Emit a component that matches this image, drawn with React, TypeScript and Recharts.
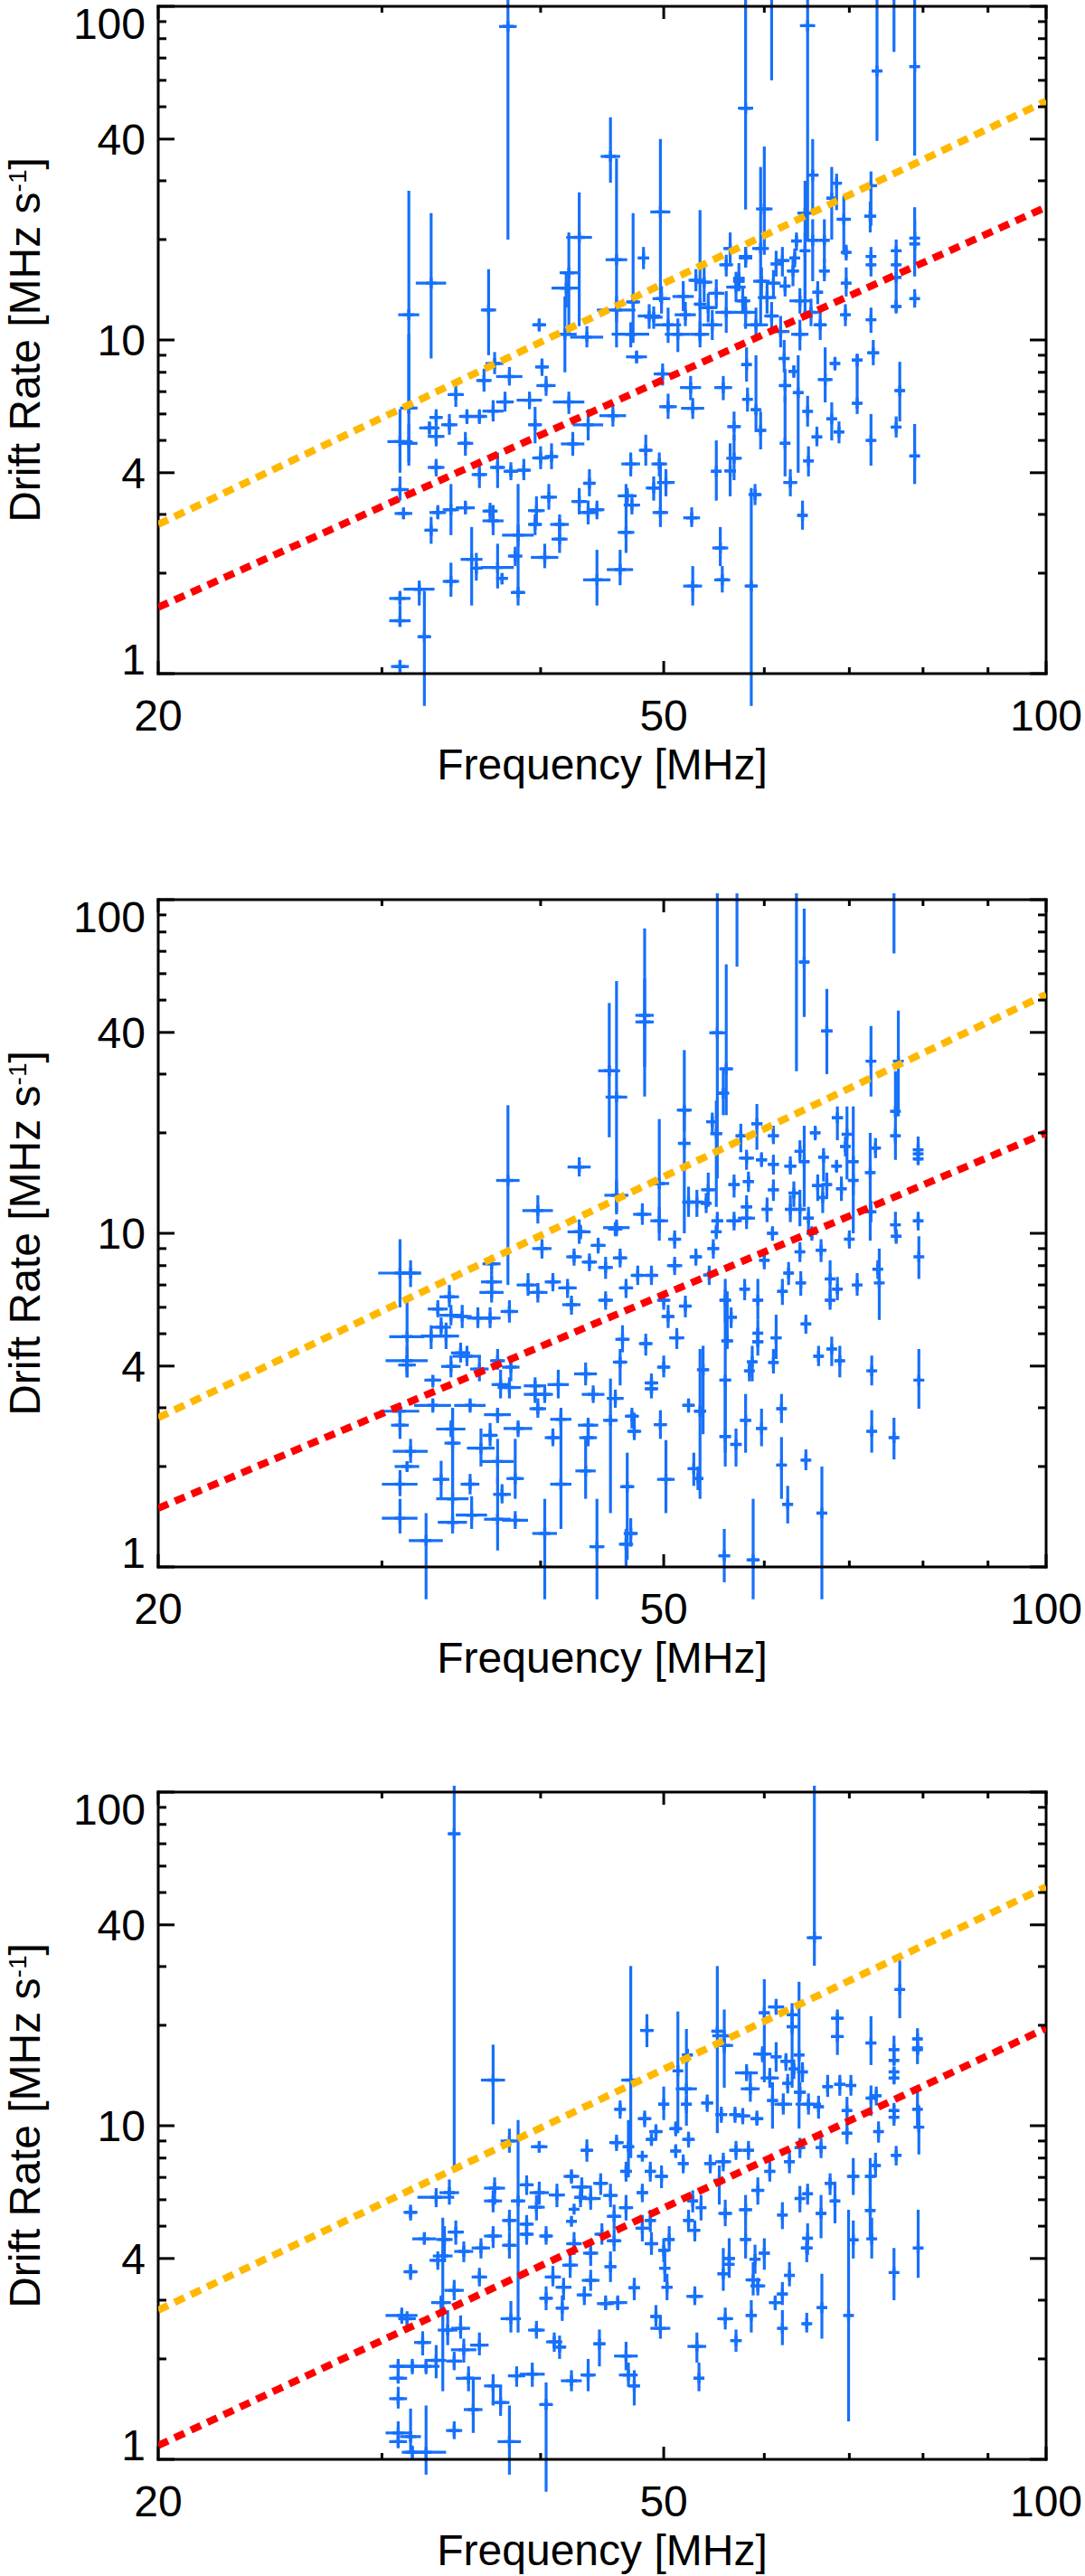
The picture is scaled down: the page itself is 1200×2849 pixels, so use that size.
import { ScatterChart, Scatter, XAxis, YAxis, ErrorBar } from "recharts";

// [frequency, drift, freq half-width, drift low end, drift high end]
type Row = [number, number, number, number, number];

const freqTicks = [20, 30, 40, 50, 60, 70, 80, 90, 100];
const freqLabels = [20, 50, 100];
const driftTicks = [1, 2, 3, 4, 5, 6, 7, 8, 9, 10, 20, 30, 40, 50, 60, 70, 80, 90, 100];
const driftLabels = [1, 4, 10, 40, 100];

const panel1: Row[] = [
  [37.7, 87, 0.6, 20, 150], [31.5, 11.9, 0.6, 6.0, 28], [32.8, 14.8, 0.9, 8.8, 24], [36.4, 12.3, 0.5, 9.0, 16.3],
  [39.9, 11.1, 0.5, 10.6, 11.6], [42.9, 20.3, 1.0, 11, 27.7], [42.1, 15.9, 0.7, 10.5, 21], [41.9, 14.3, 1.1, 12.5, 16],
  [45.4, 35.5, 0.8, 29.6, 46.5], [45.9, 17.4, 0.9, 9.5, 35], [49.7, 24.2, 0.9, 13, 40], [48.2, 17.6, 0.5, 16.3, 19],
  [58.0, 49.5, 0.8, 24.6, 150], [60.8, 130, 0.5, 60, 300], [64.9, 87.5, 0.9, 20, 150], [65.5, 31.2, 0.7, 24, 40],
  [60.0, 24.7, 0.9, 18, 38], [73.6, 64, 0.6, 39.5, 150], [75.9, 130, 0.4, 73, 300], [78.8, 66, 0.7, 35.7, 150],
  [78.8, 20.2, 0.5, 15.5, 25], [78.8, 19.4, 0.5, 17, 23], [78.8, 13.3, 0.4, 12.5, 14.2], [72.8, 29, 0.8, 22, 32],
  [72.7, 23.5, 0.8, 21, 26], [68.4, 29.5, 0.5, 24.5, 31.5], [67.8, 26.6, 0.6, 20, 33], [69.3, 23, 0.9, 18, 27],
  [76.2, 18.5, 0.6, 17, 20], [76.2, 16.8, 0.5, 15.5, 18], [76.2, 15.4, 0.6, 12.5, 17], [76.2, 12.6, 0.5, 12.0, 13.2],
  [72.8, 17.8, 0.5, 16.5, 19], [72.8, 16.8, 0.5, 15.5, 18], [72.8, 11.5, 0.5, 10.5, 12.5], [69.5, 11.9, 0.5, 11, 12.8],
  [69.6, 18.3, 0.5, 17.3, 19.3], [69.6, 14.8, 0.6, 13.5, 16.5], [66.9, 16.1, 0.5, 15, 17.5], [63.6, 19.8, 0.6, 18.5, 21],
  [66.9, 19.9, 0.5, 17, 23], [65.5, 19.9, 0.8, 15, 23], [64.6, 24, 0.9, 13, 30], [64.6, 18.5, 0.6, 12, 21],
  [63.4, 17.6, 0.6, 16.5, 18.8], [62.0, 17.3, 0.8, 15.5, 19], [61.3, 16.9, 0.6, 15.5, 18.5], [63.2, 16.1, 0.7, 14.5, 17.8],
  [59.6, 18.8, 0.9, 11, 33], [58.0, 17.6, 0.7, 16.5, 19], [56.4, 18.8, 0.7, 17, 21], [57.3, 15.3, 0.6, 14, 17],
  [59.7, 15.0, 0.9, 13.5, 16.5], [61.0, 14.8, 0.8, 13.3, 16.2], [62.3, 14.5, 0.6, 13.5, 15.5],
  [45.9, 12.3, 1.6, 11.3, 13.5], [47.1, 10.4, 1.6, 9.5, 11.3], [49.1, 11.7, 0.8, 10.8, 12.6], [50.4, 11.1, 1.2, 9.8, 12.5],
  [51.8, 13.5, 1.0, 12.2, 15], [53.8, 14.9, 0.8, 13, 17], [54.2, 12.5, 0.9, 11.3, 13.8], [54.6, 11.1, 1.0, 10, 12.3],
  [56.0, 12.1, 1.1, 10.5, 14], [57.0, 14.4, 1.0, 13, 16], [57.7, 13.1, 0.8, 12, 14.3], [58.0, 12.1, 1.2, 10.8, 13.5],
  [59.1, 11.1, 1.3, 10, 12.5], [60.3, 13.4, 1.0, 12, 15], [60.8, 11.8, 0.8, 10.5, 13], [61.8, 10.6, 1.0, 9.5, 11.8],
  [64.0, 13.1, 1.2, 12, 14.3], [65.3, 12.1, 0.9, 11, 13.3], [66.4, 11.1, 0.8, 10, 12.5], [66.1, 13.9, 0.6, 12.8, 15],
  [64.0, 10.4, 1.0, 9.3, 11.5], [53.0, 15.1, 0.7, 14, 16.3], [53.4, 10.4, 0.9, 9.5, 11.4], [51.3, 10.4, 1.2, 9.2, 11.6],
  [48.7, 11.8, 1.0, 10.8, 12.8], [49.8, 13.3, 0.8, 12, 14.5], [52.0, 11.9, 1.0, 11, 13], [55.0, 13.8, 0.8, 12.5, 15.2],
  [56.0, 16.8, 0.7, 15.5, 18], [57.3, 15.0, 0.6, 14, 16], [58.0, 17.8, 0.7, 16.5, 19], [43.5, 10.2, 1.3, 9.5, 11],
  [41.8, 10.4, 0.9, 8, 13.5], [47.3, 13.0, 0.6, 9.8, 24], [53.4, 12.8, 0.6, 9.9, 24.5],
  [31.0, 4.96, 0.7, 4.0, 6.2], [31.5, 4.9, 0.5, 4.3, 5.6], [31.5, 6.25, 0.5, 4.2, 10.4], [31.0, 3.56, 0.5, 3.3, 3.9],
  [31.2, 3.02, 0.5, 2.9, 3.15], [31.0, 1.68, 0.6, 1.6, 1.77], [31.0, 1.44, 0.6, 1.38, 1.6], [31.0, 1.05, 0.5, 1.0, 1.1],
  [32.1, 1.79, 0.9, 1.6, 1.9], [32.4, 1.29, 0.4, 0.8, 1.77], [32.8, 2.69, 0.4, 2.45, 2.95], [33.2, 3.04, 0.5, 2.9, 3.2],
  [34.0, 3.1, 0.5, 2.6, 3.7], [34.9, 3.14, 0.6, 3.0, 3.3], [34.0, 1.89, 0.5, 1.7, 2.15], [35.3, 2.2, 0.7, 1.6, 2.75],
  [35.6, 2.07, 0.4, 1.9, 2.3], [37.0, 2.08, 1.1, 1.8, 2.45], [37.3, 1.93, 0.4, 1.85, 2.0], [38.4, 1.75, 0.5, 1.6, 3.7],
  [38.2, 2.25, 0.5, 2.1, 2.4], [38.4, 2.6, 1.1, 2.4, 2.8], [40.3, 2.23, 1.0, 2.07, 2.45], [41.4, 2.53, 0.6, 2.3, 2.8],
  [44.3, 1.91, 1.1, 1.6, 2.35], [46.2, 2.05, 1.1, 1.84, 2.35], [46.7, 2.65, 0.7, 2.3, 3.7], [47.2, 3.2, 0.7, 3.0, 3.45],
  [46.8, 3.41, 0.8, 3.2, 3.6], [49.7, 3.04, 0.7, 2.75, 4.3], [50.2, 3.74, 0.8, 3.4, 4.1], [49.1, 3.6, 0.7, 3.3, 3.9],
  [47.1, 4.25, 0.8, 3.9, 4.6], [48.4, 4.67, 0.6, 4.2, 5.2], [49.6, 4.25, 0.7, 3.9, 4.6], [52.6, 2.93, 0.8, 2.75, 3.15],
  [55.4, 2.38, 0.8, 2.1, 2.75], [55.6, 1.91, 0.8, 1.75, 2.1], [52.7, 1.83, 0.9, 1.6, 2.1], [58.6, 1.83, 0.7, 0.8, 3.6],
  [59.0, 3.44, 0.7, 3.2, 3.7], [64.3, 2.98, 0.5, 2.7, 3.3], [62.9, 3.74, 0.8, 3.4, 4.1], [62.3, 4.9, 0.5, 3.9, 6.8],
  [65.0, 4.34, 0.5, 3.9, 4.8], [66.0, 5.12, 0.6, 4.8, 5.5], [72.8, 5.0, 0.5, 4.2, 6.0], [76.2, 5.48, 0.6, 5.1, 5.9],
  [78.8, 4.49, 0.3, 3.7, 5.6], [76.7, 7.05, 0.6, 5.7, 8.6], [71.0, 6.46, 0.4, 6.0, 9.0], [71.0, 8.7, 0.7, 8.3, 9.1],
  [73.1, 9.15, 0.8, 8.4, 10], [68.2, 8.5, 0.6, 8.1, 8.9], [64.9, 6.11, 0.4, 5.5, 6.8], [67.8, 5.8, 0.5, 5.0, 6.5],
  [68.7, 5.3, 0.5, 4.9, 5.7], [67.0, 7.61, 0.9, 6.5, 9.5], [63.3, 8.05, 0.5, 7.7, 8.4], [63.8, 6.95, 0.6, 4.0, 9.0],
  [62.3, 7.3, 0.7, 6.5, 8.2], [62.2, 8.8, 0.6, 8.0, 10], [56.8, 4.42, 0.8, 3.8, 5.2], [56.4, 4.05, 0.6, 3.4, 4.9],
  [55.0, 4.04, 0.5, 3.3, 5.0], [59.6, 5.36, 0.6, 4.7, 6.1], [58.1, 8.44, 0.5, 7.5, 9.5], [59.1, 6.18, 0.5, 5.3, 9.0],
  [58.2, 6.64, 0.5, 6.1, 7.2], [56.8, 5.5, 0.7, 5.0, 6.1], [55.7, 7.2, 0.9, 6.6, 7.8], [52.5, 7.2, 1.0, 6.6, 7.8],
  [52.7, 6.24, 1.1, 5.8, 6.7], [50.4, 6.31, 0.8, 5.8, 6.9], [49.9, 7.91, 0.8, 7.3, 8.5], [47.6, 8.9, 0.9, 8.5, 9.3],
  [45.6, 5.93, 1.1, 5.5, 6.4], [43.6, 5.57, 1.2, 5.0, 6.2], [42.4, 4.88, 0.9, 4.5, 5.3], [42.1, 6.52, 1.2, 6.0, 7.0],
  [40.8, 4.47, 0.5, 4.1, 4.9], [40.0, 4.43, 0.6, 4.1, 4.8], [40.1, 8.3, 0.5, 7.8, 8.8], [40.4, 7.3, 0.7, 6.8, 7.8],
  [39.2, 6.6, 0.9, 6.2, 7.0], [39.6, 5.57, 0.5, 4.9, 6.3], [37.8, 7.77, 0.9, 7.3, 8.3], [37.5, 6.52, 0.6, 6.1, 7.0],
  [36.8, 8.5, 0.6, 7.9, 9.2], [36.1, 7.56, 0.5, 7.0, 8.2], [36.7, 6.12, 0.7, 5.7, 6.6], [35.8, 5.9, 0.5, 5.6, 6.2],
  [35.0, 5.9, 0.5, 5.6, 6.2], [33.9, 5.57, 0.5, 5.2, 6.0], [34.3, 6.86, 0.5, 6.3, 7.4], [34.9, 4.9, 0.5, 4.5, 5.3],
  [33.1, 5.86, 0.4, 5.5, 6.2], [32.7, 5.45, 0.6, 5.2, 5.7], [33.1, 5.14, 0.5, 4.8, 5.5], [33.1, 4.15, 0.5, 3.9, 4.4],
  [35.8, 3.95, 0.5, 3.6, 4.3], [37.0, 4.15, 0.5, 3.6, 4.6], [37.9, 4.04, 0.5, 3.8, 4.3], [38.8, 4.07, 0.5, 3.8, 4.4],
  [36.5, 3.07, 0.5, 2.9, 3.25], [36.7, 2.87, 0.7, 2.6, 3.2], [39.7, 3.08, 0.6, 2.8, 3.4], [39.6, 2.8, 0.5, 2.6, 3.0],
  [41.4, 2.8, 0.7, 2.6, 3.0], [40.6, 3.38, 0.6, 3.1, 3.7], [42.9, 3.28, 0.6, 3.0, 3.6], [43.6, 3.04, 0.7, 2.8, 3.3],
  [43.7, 3.72, 0.5, 3.4, 4.1], [44.3, 3.1, 0.6, 2.9, 3.3],
];

const panel2: Row[] = [
  [37.7, 14.4, 0.8, 7.0, 24.2], [39.8, 11.7, 1.1, 10.7, 13.0], [42.9, 15.8, 0.9, 14.8, 16.9], [45.3, 30.7, 0.9, 19.4, 49],
  [45.9, 25.6, 0.9, 11.4, 57], [45.9, 13.0, 1.0, 11.6, 14.5], [48.3, 45, 0.8, 31.5, 58], [48.3, 43, 0.8, 25.7, 82],
  [51.9, 23.4, 0.7, 20.2, 35.4], [51.9, 18.6, 0.6, 10, 24], [49.6, 14.1, 0.9, 9.5, 22], [55.1, 39.9, 0.8, 14.6, 150],
  [57.1, 130, 0.4, 63, 300], [56.0, 31.1, 0.7, 22.6, 64], [55.7, 26.3, 0.6, 22.6, 31], [63.6, 110, 0.4, 30.6, 300],
  [64.5, 65, 0.5, 44.5, 94], [67.2, 40.4, 0.7, 30, 54], [75.9, 120, 0.4, 69, 300], [72.8, 32.8, 0.5, 25.7, 41.8],
  [76.5, 32.8, 0.5, 22.4, 46.5], [76.1, 23.2, 0.6, 16.6, 30.6], [76.1, 19.6, 0.6, 18.5, 20.8], [79.3, 17.8, 0.5, 16.5, 19.5],
  [79.3, 17.3, 0.5, 16.5, 18.5], [79.3, 16.7, 0.5, 16.0, 17.5], [73.4, 18, 0.5, 16.8, 19.3], [72.7, 15.2, 0.6, 9.5, 20],
  [68.5, 22.2, 0.7, 19, 24], [69.7, 19.8, 0.4, 14.5, 24], [69.5, 18.2, 0.5, 17, 19.5], [70.5, 16.4, 0.6, 10, 24],
  [65.8, 20.0, 0.6, 19, 21], [64.0, 17.6, 0.6, 16.5, 19], [64.5, 16.4, 0.6, 12, 21], [66.8, 16.9, 0.6, 14.3, 18],
  [68.4, 15.9, 0.5, 15.2, 16.6], [62.9, 15.9, 0.7, 15, 17], [61.0, 16.1, 0.6, 15, 17.2], [59.7, 16.6, 0.6, 15.8, 17.5],
  [58.1, 16.8, 0.8, 15.5, 17.8], [59.2, 21.3, 0.6, 17.8, 24.4], [61.0, 19.6, 0.6, 18.5, 21], [57.5, 19.6, 0.5, 17.5, 21.3],
  [54.6, 21.6, 0.6, 20, 23], [55.0, 19.9, 0.6, 12, 25], [58.3, 14.3, 0.6, 13.3, 15.3], [56.8, 14.0, 0.6, 12.8, 15],
  [61.0, 13.5, 0.6, 12.5, 14.5], [63.3, 13.2, 0.6, 12, 14.3], [64.0, 11.8, 0.7, 10.5, 13.5], [66.1, 13.9, 0.7, 12.5, 15],
  [67.2, 14.0, 0.6, 12.8, 15.2], [69.0, 13.6, 0.6, 12.5, 14.8], [70.5, 14.4, 0.5, 13, 15.8], [66.7, 12.8, 0.6, 11.5, 14],
  [62.9, 11.8, 0.6, 10.8, 13], [65.0, 11.1, 0.6, 10.2, 12], [72.8, 11.6, 0.5, 10.8, 12.5], [76.1, 10.6, 0.5, 10.0, 11.6],
  [79.3, 10.9, 0.5, 10.2, 11.6], [60.3, 11.8, 0.6, 10.8, 12.8], [58.1, 12.0, 0.6, 11.2, 13], [58.1, 11.1, 0.9, 10.3, 12],
  [56.8, 10.9, 0.8, 10.2, 11.6], [55.1, 10.9, 0.6, 10.2, 11.6], [54.2, 13.5, 0.7, 12, 15.2], [52.3, 12.4, 0.6, 11.2, 13.8],
  [53.1, 12.4, 0.7, 11.2, 13.5], [54.0, 12.3, 0.5, 11.5, 13.2], [49.6, 10.9, 0.8, 10, 12], [48.1, 11.4, 0.8, 10.6, 12.3],
  [45.9, 10.4, 1.1, 9.8, 11], [42.9, 10.1, 0.9, 9.3, 11],
  [31.0, 7.6, 1.2, 6.0, 9.6], [31.6, 7.6, 0.6, 6.9, 8.3], [31.4, 4.9, 1.0, 3.7, 6.3], [31.4, 4.15, 1.2, 3.7, 4.6],
  [31.4, 4.03, 0.5, 3.8, 4.3], [31.0, 2.93, 1.1, 2.8, 3.1], [31.0, 2.66, 0.5, 2.42, 2.93], [31.6, 2.22, 1.0, 2.05, 2.42],
  [31.4, 2.0, 0.7, 1.95, 2.06], [31.0, 1.77, 1.0, 1.63, 1.95], [31.0, 1.4, 1.0, 1.26, 1.6], [32.5, 1.2, 1.0, 0.8, 1.45],
  [32.9, 3.63, 0.5, 3.45, 3.75], [32.9, 3.05, 1.1, 2.9, 3.2], [33.4, 1.83, 0.5, 1.6, 2.08], [34.1, 1.6, 1.0, 1.3, 2.98],
  [34.1, 1.36, 0.9, 1.26, 1.45], [34.1, 2.35, 0.5, 1.6, 3.0], [34.0, 2.59, 0.9, 2.45, 2.75], [35.3, 1.43, 1.0, 1.3, 1.63],
  [35.2, 1.77, 0.6, 1.65, 1.9], [35.2, 3.05, 1.0, 2.9, 3.2], [35.9, 2.27, 0.9, 2.0, 2.6], [36.5, 2.48, 0.5, 2.3, 2.7],
  [37.0, 2.07, 1.1, 1.77, 2.42], [37.3, 1.65, 0.6, 1.55, 1.77], [37.0, 1.39, 0.9, 1.12, 1.85], [38.2, 1.38, 0.9, 1.3, 1.47],
  [38.2, 1.84, 0.6, 1.6, 2.42], [38.4, 2.6, 1.0, 2.45, 2.75], [37.0, 2.86, 0.9, 2.7, 3.0], [40.3, 1.26, 0.9, 0.8, 1.6],
  [41.5, 1.77, 0.8, 1.3, 3.0], [40.9, 2.44, 0.6, 2.3, 2.6], [41.5, 2.77, 0.8, 2.6, 2.95], [39.8, 2.98, 0.6, 2.8, 3.2],
  [39.6, 3.29, 0.8, 3.1, 3.5], [43.4, 1.94, 0.8, 1.6, 2.42], [44.3, 1.15, 0.6, 0.8, 1.6], [43.6, 2.44, 0.7, 2.3, 2.6],
  [43.6, 2.66, 0.8, 2.5, 2.8], [45.4, 2.75, 0.6, 1.45, 3.67], [45.8, 3.2, 0.7, 3.0, 3.4], [46.8, 1.74, 0.6, 1.05, 2.2],
  [46.7, 1.17, 0.6, 1.0, 1.3], [47.1, 1.26, 0.6, 1.15, 1.4], [47.4, 2.55, 0.6, 2.4, 2.9], [47.2, 2.83, 0.6, 2.6, 3.0],
  [50.2, 1.83, 0.8, 1.45, 2.4], [49.7, 2.67, 0.6, 2.42, 2.95], [52.8, 1.97, 0.6, 1.75, 2.2], [53.2, 1.84, 0.5, 1.7, 2.0],
  [53.4, 2.93, 0.6, 1.6, 4.5], [52.3, 3.05, 0.6, 2.9, 3.2], [55.8, 1.08, 0.6, 0.9, 1.3], [58.8, 1.05, 0.7, 0.8, 1.6],
  [55.9, 2.46, 0.6, 2.0, 3.67], [57.0, 2.33, 0.6, 2.0, 2.6], [58.0, 2.75, 0.6, 2.2, 3.3], [59.7, 2.6, 0.6, 2.3, 2.98],
  [61.9, 2.02, 0.5, 1.6, 2.45], [61.9, 2.98, 0.5, 2.7, 3.3], [62.6, 1.54, 0.6, 1.35, 1.75], [64.7, 2.09, 0.5, 1.95, 2.25],
  [66.6, 1.45, 0.5, 0.8, 2.0], [72.9, 2.55, 0.4, 2.2, 2.95], [75.9, 2.44, 0.5, 2.1, 2.8], [72.9, 3.87, 0.5, 3.5, 4.3],
  [79.4, 3.63, 0.3, 2.98, 4.5], [68.8, 4.15, 0.5, 3.7, 4.6], [67.8, 4.5, 0.4, 4.0, 4.9], [66.2, 4.28, 0.5, 4.0, 4.6],
  [61.0, 4.1, 0.5, 3.8, 4.5], [58.7, 4.12, 0.5, 3.6, 4.6], [58.4, 3.87, 0.5, 3.6, 4.1], [61.3, 4.86, 0.6, 4.2, 5.7],
  [59.3, 4.73, 0.6, 4.3, 5.2], [59.3, 5.02, 0.5, 4.6, 5.5], [55.9, 3.63, 0.6, 2.2, 6.8], [56.1, 4.76, 0.6, 4.5, 6.7],
  [53.7, 3.9, 0.6, 2.5, 4.6], [50.0, 3.97, 0.6, 3.7, 4.3], [48.9, 3.56, 0.6, 3.3, 3.8], [48.9, 3.42, 0.6, 3.2, 3.6],
  [46.2, 4.11, 0.6, 3.5, 4.5], [48.4, 4.67, 0.6, 4.3, 5.0], [46.4, 4.81, 0.6, 4.4, 5.3], [44.0, 3.29, 0.9, 3.1, 3.5],
  [43.4, 3.79, 0.9, 3.5, 4.1], [41.3, 3.52, 0.8, 3.2, 3.9], [40.3, 3.29, 0.6, 3.1, 3.5], [39.6, 3.49, 0.8, 3.3, 3.7],
  [37.8, 3.45, 0.8, 3.2, 3.7], [37.9, 3.97, 0.6, 3.6, 4.3], [37.0, 4.15, 0.5, 3.9, 4.5], [37.2, 3.52, 0.6, 3.2, 3.9],
  [35.8, 3.92, 0.6, 3.6, 4.3], [35.0, 4.28, 0.9, 4.0, 4.6], [34.6, 4.38, 0.6, 4.1, 4.7], [34.0, 3.99, 0.6, 3.7, 4.3],
  [33.7, 4.92, 0.8, 4.5, 5.4], [32.8, 4.92, 0.6, 4.5, 5.3], [33.4, 5.23, 0.6, 4.9, 5.6], [34.0, 5.68, 0.7, 5.3, 6.1],
  [33.2, 5.93, 0.6, 5.6, 6.3], [33.9, 6.45, 0.6, 6.0, 7.0], [34.7, 5.63, 0.6, 5.2, 6.1], [35.7, 5.57, 0.7, 5.2, 6.0],
  [36.5, 5.57, 0.7, 5.2, 6.0], [36.6, 7.15, 0.7, 6.7, 7.7], [36.6, 6.65, 0.8, 6.2, 7.1], [36.6, 8.1, 0.6, 7.6, 8.6],
  [37.8, 5.83, 0.6, 5.4, 6.3], [39.1, 7.0, 0.8, 6.5, 7.6], [39.8, 6.65, 0.7, 6.2, 7.1], [40.1, 9.0, 0.7, 8.4, 9.6],
  [40.9, 7.15, 0.6, 6.7, 7.6], [42.0, 6.86, 0.7, 6.4, 7.3], [42.3, 6.11, 0.7, 5.7, 6.5], [42.5, 8.5, 0.6, 8.0, 9.0],
  [43.0, 10.1, 0.6, 9.6, 10.6], [43.7, 8.2, 0.6, 7.7, 8.7], [44.4, 9.2, 0.6, 8.7, 9.7], [45.0, 7.9, 0.6, 7.3, 8.5],
  [45.8, 10.3, 0.6, 9.8, 10.8], [45.0, 6.3, 0.6, 5.9, 6.7], [46.7, 6.86, 0.6, 6.4, 7.3], [46.2, 8.44, 0.6, 7.9, 9.0],
  [47.7, 7.48, 0.6, 7.0, 8.0], [48.9, 7.48, 0.6, 7.0, 8.0], [50.0, 6.3, 0.6, 5.9, 6.7], [50.4, 5.63, 0.6, 5.2, 6.1],
  [51.2, 4.86, 0.7, 4.5, 5.2], [52.0, 6.05, 0.6, 5.6, 6.5], [51.0, 8.0, 0.7, 7.5, 8.5], [51.0, 9.6, 0.6, 9.0, 10.2],
  [53.0, 8.5, 0.6, 8.0, 9.0], [54.3, 7.5, 0.6, 7.0, 8.0], [54.7, 9.0, 0.6, 8.4, 9.6], [55.0, 10.1, 0.5, 9.6, 10.6],
  [55.9, 6.3, 0.6, 5.4, 7.3], [56.5, 5.6, 0.6, 5.2, 6.0], [57.9, 6.8, 0.5, 6.3, 7.3], [59.3, 6.3, 0.5, 5.5, 7.3],
  [60.0, 8.3, 0.5, 7.8, 8.8], [60.9, 10.0, 0.6, 9.5, 10.5], [62.0, 6.7, 0.5, 6.1, 7.3], [62.7, 7.6, 0.5, 7.0, 8.2],
  [64.1, 7.1, 0.5, 6.5, 7.7], [64.7, 5.35, 0.5, 5.0, 5.7], [64.0, 8.8, 0.5, 8.2, 9.4], [65.4, 10.0, 0.5, 9.5, 10.5],
  [66.5, 8.9, 0.5, 8.2, 9.6], [67.6, 7.3, 0.5, 6.5, 8.3], [68.5, 6.8, 0.5, 6.3, 7.4], [67.6, 6.3, 0.5, 5.9, 6.8],
  [70.0, 9.6, 0.4, 9.0, 10.2], [71.0, 7.0, 0.4, 6.5, 7.6], [73.9, 7.1, 0.4, 5.5, 9.0], [73.7, 7.8, 0.4, 7.3, 8.3],
  [76.2, 9.8, 0.5, 9.3, 10.3], [79.4, 8.5, 0.3, 7.3, 9.8],
];

const panel3: Row[] = [
  [34.2, 75, 0.4, 7.3, 200], [65.7, 36.6, 0.9, 30.2, 200], [36.7, 13.7, 0.8, 10.1, 17.5], [48.5, 19.3, 0.6, 17.2, 21.6],
  [47.1, 13.7, 0.8, 8, 30.1], [46.2, 11.2, 0.5, 10.5, 11.9], [48.3, 10.5, 0.6, 9.9, 11.1], [50.0, 11.6, 0.5, 10.4, 13.1],
  [51.3, 14.6, 0.4, 9.5, 22.0], [52.1, 12.9, 1.0, 10.0, 19.5], [52.2, 16.3, 0.5, 15.5, 17], [52.1, 11.6, 0.5, 10.9, 12.3],
  [54.1, 11.7, 0.6, 11.0, 12.4], [55.1, 19.2, 0.6, 9.5, 30.1], [55.8, 18.6, 1.2, 13, 22.3], [55.8, 17.4, 0.9, 16.5, 18.3],
  [55.5, 10.8, 0.6, 10.2, 11.4], [56.9, 10.8, 0.6, 10.2, 11.4], [58.1, 14.4, 1.2, 13.6, 15.3], [58.5, 12.9, 1.0, 11.8, 14.5],
  [60.0, 21.8, 0.6, 13.5, 27.5], [61.3, 22.7, 0.9, 21.5, 24], [63.1, 21.5, 0.6, 13, 23.3], [63.1, 19.8, 0.6, 18.8, 21],
  [63.9, 16.3, 0.6, 9.8, 27], [59.8, 16.4, 1.0, 15.5, 17.3], [61.3, 16.1, 0.6, 14.5, 17.8], [60.6, 13.9, 1.0, 13, 14.9],
  [62.4, 15.6, 0.6, 14.6, 16.5], [63.3, 14.8, 0.6, 13.8, 15.8], [64.3, 14.5, 0.6, 13.5, 15.5], [62.6, 13.4, 0.6, 12.5, 14.3],
  [64.0, 12.6, 0.7, 11.8, 13.5], [60.9, 11.9, 0.6, 9.8, 13.5], [62.1, 11.6, 1.0, 10.8, 12.5], [65.0, 11.6, 1.5, 10.8, 12.5],
  [66.2, 11.4, 0.6, 10.5, 12.3], [67.3, 13.1, 0.6, 12.2, 14.2], [68.8, 13.3, 0.7, 12.3, 14.2], [70.2, 13.2, 0.6, 12.3, 14.2],
  [68.5, 21.0, 0.8, 18.5, 22.3], [68.5, 18.5, 0.8, 16.3, 21.0], [72.8, 17.7, 0.7, 15.2, 21.3], [75.9, 16.9, 0.7, 15.4, 18.6],
  [75.9, 15.7, 0.6, 15.2, 16.2], [75.9, 14.5, 0.5, 14, 15], [75.9, 13.9, 0.5, 13.3, 14.5], [76.7, 25.6, 0.6, 21.0, 31.3],
  [79.2, 18.2, 0.6, 15.3, 19.6], [79.2, 17.1, 0.6, 16.5, 17.7], [79.2, 16.9, 0.6, 16.3, 17.5], [72.8, 12.1, 0.5, 10.7, 13.2],
  [73.5, 12.3, 0.6, 11.5, 13.1], [75.9, 11.1, 0.5, 10.5, 11.7], [75.9, 10.6, 0.6, 10.0, 11.2], [79.2, 11.2, 0.6, 9.8, 12.7],
  [69.7, 11.1, 0.5, 10.0, 12.2], [57.7, 10.7, 0.8, 10.1, 11.3], [59.2, 10.5, 0.7, 10.0, 11.1],
  [33.1, 6.1, 1.1, 5.7, 6.5], [33.9, 6.3, 0.6, 5.8, 6.9], [31.6, 5.5, 0.4, 5.2, 5.8], [31.6, 3.65, 0.4, 3.45, 3.85],
  [31.1, 2.7, 0.9, 2.55, 2.85], [31.4, 2.64, 0.5, 2.5, 2.78], [30.9, 1.9, 0.5, 1.72, 2.0], [30.9, 1.75, 0.5, 1.7, 1.82],
  [30.9, 1.52, 0.5, 1.42, 1.65], [30.9, 1.2, 0.7, 1.12, 1.3], [31.6, 1.17, 0.6, 1.05, 1.42], [30.9, 1.13, 0.5, 1.08, 1.18],
  [31.7, 1.05, 0.6, 1.0, 1.1], [32.5, 1.05, 1.2, 0.9, 1.45], [34.2, 1.22, 0.5, 1.15, 1.3], [32.5, 1.9, 0.8, 1.8, 2.0],
  [31.7, 1.9, 0.7, 1.8, 2.0], [32.3, 2.24, 0.5, 2.05, 2.42], [33.1, 1.98, 0.6, 1.75, 2.2], [33.6, 4.56, 0.5, 3.9, 5.0],
  [33.5, 4.07, 0.6, 1.6, 5.3], [33.2, 3.95, 0.5, 3.7, 4.2], [34.3, 4.8, 0.5, 4.4, 5.2], [32.4, 4.58, 0.7, 4.4, 4.8],
  [34.8, 4.2, 0.6, 3.9, 4.5], [34.2, 3.21, 0.6, 3.0, 3.45], [33.4, 2.95, 0.6, 2.8, 3.1], [33.8, 2.44, 0.6, 2.2, 2.8],
  [34.6, 2.47, 0.6, 2.3, 2.7], [34.8, 2.13, 0.8, 1.95, 2.3], [34.2, 1.97, 0.5, 1.85, 2.1], [35.1, 1.75, 0.8, 1.6, 1.9],
  [35.4, 1.41, 0.6, 1.2, 1.75], [35.9, 4.3, 0.6, 4.0, 4.6], [35.8, 3.52, 0.5, 3.3, 3.75], [36.7, 4.67, 0.6, 4.3, 5.0],
  [36.8, 6.5, 0.7, 5.8, 7.0], [36.7, 5.95, 0.6, 5.5, 6.4], [35.8, 2.2, 0.6, 2.05, 2.4], [36.7, 1.66, 0.6, 1.45, 1.8],
  [37.2, 1.48, 0.6, 1.35, 1.66], [37.8, 1.13, 0.8, 0.9, 1.45], [37.9, 2.64, 0.7, 2.4, 2.98], [37.8, 4.38, 0.5, 4.0, 4.8],
  [37.8, 5.2, 0.5, 4.8, 5.6], [38.4, 5.95, 0.5, 2.4, 10.4], [37.8, 9.0, 0.6, 8.3, 9.8], [39.9, 8.65, 0.6, 8.3, 9.0],
  [39.0, 6.65, 0.5, 6.2, 7.1], [39.9, 6.3, 0.7, 5.8, 6.8], [41.2, 6.2, 0.6, 5.7, 6.7], [39.7, 5.7, 0.6, 5.2, 6.2],
  [39.0, 5.07, 0.5, 4.8, 5.4], [40.4, 4.67, 0.5, 4.4, 5.0], [39.0, 4.73, 0.5, 4.4, 5.0], [38.3, 1.78, 0.6, 1.65, 1.9],
  [39.4, 1.8, 0.9, 1.65, 1.95], [40.4, 1.46, 0.5, 0.8, 1.7], [39.7, 2.44, 0.6, 2.3, 2.6], [41.4, 2.17, 0.5, 2.0, 2.35],
  [41.0, 2.25, 0.6, 2.1, 2.4], [40.4, 3.04, 0.5, 2.8, 3.3], [41.6, 2.84, 0.5, 2.6, 3.1], [42.3, 1.72, 0.8, 1.6, 1.85],
  [43.6, 1.79, 0.6, 1.6, 2.0], [44.5, 2.22, 0.5, 1.9, 2.45], [43.8, 3.44, 0.7, 3.2, 3.7], [43.3, 3.11, 0.6, 2.9, 3.3],
  [41.7, 3.28, 0.6, 3.0, 3.5], [40.9, 3.52, 0.6, 3.3, 3.8], [42.5, 4.43, 0.6, 4.1, 4.8], [42.2, 3.82, 0.6, 3.5, 4.1],
  [43.8, 4.15, 0.6, 3.8, 4.5], [45.4, 3.78, 0.5, 3.4, 4.2], [46.0, 2.95, 0.8, 2.8, 3.1], [45.0, 2.93, 0.7, 2.8, 3.1],
  [47.4, 3.27, 0.5, 3.0, 3.5], [46.7, 2.04, 1.0, 1.85, 2.25], [46.9, 1.79, 0.8, 1.65, 1.95], [47.4, 1.66, 0.5, 1.45, 1.85],
  [49.3, 2.68, 0.5, 2.5, 2.9], [49.7, 2.47, 0.9, 2.3, 2.7], [50.3, 3.28, 0.5, 3.0, 3.6], [50.1, 3.74, 0.5, 3.4, 4.3],
  [48.9, 4.43, 0.6, 4.1, 4.8], [50.5, 4.56, 0.5, 4.2, 5.0], [50.0, 4.23, 0.5, 3.9, 4.6], [52.9, 3.08, 0.8, 2.9, 3.3],
  [53.1, 2.18, 0.9, 1.95, 2.4], [53.3, 1.75, 0.5, 1.6, 1.95], [55.9, 2.64, 0.8, 2.45, 2.85], [57.0, 2.27, 0.6, 2.1, 2.45],
  [55.7, 3.6, 0.6, 3.2, 4.3], [56.3, 4.0, 0.6, 3.5, 4.6], [56.3, 3.84, 0.5, 3.6, 4.1], [58.0, 4.56, 0.6, 4.0, 5.0],
  [59.0, 3.98, 0.6, 3.6, 4.4], [58.8, 3.45, 0.8, 3.1, 3.9], [59.3, 3.31, 0.8, 3.1, 3.5], [58.6, 2.7, 0.6, 2.4, 3.0],
  [60.0, 4.15, 0.6, 3.7, 4.6], [61.2, 2.95, 0.7, 2.8, 3.1], [62.0, 3.13, 0.6, 2.9, 3.4], [62.0, 2.47, 0.5, 2.2, 2.8],
  [62.8, 3.56, 0.6, 3.3, 3.9], [64.8, 2.55, 0.4, 2.4, 2.75], [66.6, 2.85, 0.5, 2.3, 3.6], [69.9, 2.7, 0.5, 1.3, 5.6],
  [64.9, 4.6, 0.6, 4.1, 5.1], [64.8, 4.3, 0.7, 3.9, 4.6], [70.5, 4.55, 0.4, 4.0, 5.2], [72.9, 4.58, 0.4, 4.0, 5.3],
  [75.9, 3.63, 0.4, 3.0, 4.3], [79.3, 4.3, 0.3, 3.5, 5.6], [72.7, 5.57, 0.6, 4.6, 6.8], [68.2, 5.95, 0.5, 5.1, 6.8],
  [66.5, 5.46, 0.6, 4.6, 6.2], [67.6, 6.72, 0.6, 6.2, 7.2], [70.5, 7.05, 0.8, 6.2, 8.0], [72.7, 7.05, 0.6, 6.2, 8.0],
  [73.4, 7.6, 0.5, 7.0, 8.3], [76.2, 8.15, 0.5, 7.6, 8.7], [79.4, 9.9, 0.3, 8.2, 11.5], [73.8, 9.6, 0.5, 8.9, 10.3],
  [69.7, 9.5, 0.5, 8.8, 10.2], [66.5, 8.6, 0.6, 8.0, 9.2], [64.0, 8.6, 0.5, 8.0, 9.2], [62.8, 7.8, 0.6, 7.2, 8.4],
  [60.6, 7.3, 0.6, 6.8, 7.8], [59.3, 6.4, 0.7, 5.8, 7.0], [58.0, 5.6, 0.7, 5.0, 6.2], [62.0, 5.4, 0.5, 4.9, 5.9],
  [64.0, 6.05, 0.5, 5.5, 6.6], [64.9, 6.25, 0.5, 5.8, 6.7], [57.0, 8.44, 0.7, 7.9, 9.0], [58.3, 8.44, 0.6, 7.9, 9.0],
  [55.7, 7.8, 0.8, 7.3, 8.3], [54.4, 7.7, 0.6, 7.2, 8.2], [55.3, 6.86, 0.6, 5.8, 7.6], [55.9, 5.46, 0.7, 5.0, 6.0],
  [53.5, 5.68, 0.5, 5.2, 6.2], [52.7, 5.95, 0.5, 5.5, 6.4], [52.3, 5.2, 0.5, 4.8, 5.6], [52.9, 4.86, 0.5, 4.5, 5.2],
  [51.8, 7.7, 0.5, 7.2, 8.2], [51.1, 8.4, 0.5, 8.0, 8.8], [52.3, 9.1, 0.6, 8.6, 9.6], [51.1, 9.8, 0.6, 9.3, 10.3],
  [49.3, 9.6, 0.6, 9.1, 10.1], [48.9, 9.1, 0.5, 8.7, 9.5], [48.1, 8.1, 0.2, 8.0, 8.2], [49.8, 7.05, 0.6, 6.5, 7.6],
  [48.8, 7.3, 0.5, 6.8, 7.8], [48.1, 6.3, 0.5, 5.9, 6.7], [48.8, 5.2, 0.5, 4.8, 5.6], [46.7, 7.3, 0.5, 6.8, 7.8],
  [45.9, 8.9, 0.6, 8.4, 9.4], [46.9, 8.65, 0.5, 7.0, 10.4], [43.5, 8.44, 0.5, 7.8, 9.1], [42.3, 7.05, 0.6, 6.7, 7.4],
  [43.1, 6.55, 0.8, 6.1, 7.0], [43.8, 6.05, 0.8, 5.6, 6.5], [43.0, 6.1, 0.5, 5.7, 6.5], [44.6, 6.72, 0.6, 6.2, 7.2],
  [45.4, 6.18, 0.6, 5.7, 6.7], [46.7, 5.68, 0.6, 5.2, 6.2], [45.7, 5.35, 0.6, 4.9, 5.8], [42.5, 5.62, 0.2, 5.55, 5.7],
  [42.3, 5.17, 0.2, 5.1, 5.25], [44.7, 4.73, 0.6, 4.4, 5.1], [45.7, 4.52, 0.6, 4.2, 4.9], [48.1, 4.93, 0.6, 4.5, 5.4],
];

// dotted reference lines: end points at 20 and 100 MHz
const orangeLine = [{ x: 20, y: 2.8 }, { x: 100, y: 52 }];
const redLine1 = [{ x: 20, y: 1.58 }, { x: 100, y: 25 }];
const redLine2 = [{ x: 20, y: 1.5 }, { x: 100, y: 20 }];
const redLine3 = [{ x: 20, y: 1.1 }, { x: 100, y: 19.6 }];

const BLUE = "#1670FA";
const ORANGE = "#FFB800";
const RED = "#FF0000";
const FONT = "'Liberation Sans', Arial, Helvetica, sans-serif";
const PANEL_TOPS = [0, 988, 1975];

const toPoints = (rows: Row[]) =>
  rows.map(([x, y, ex, lo, hi]) => ({ x, y, ex, ey: [y - lo, hi - y] }));

const frame = { stroke: "#000", strokeWidth: 3, strokeLinecap: "square" as const };

function BottomTick({ x, y, payload }: any) {
  const major = freqLabels.includes(payload.value);
  return (
    <g>
      <line x1={x} x2={x} y1={y} y2={y - (major ? 14 : 7)} stroke="#000" strokeWidth={3} />
      {major && (
        <text x={x} y={y + 63} textAnchor="middle" fontSize={48} fontFamily={FONT} fill="#000">
          {payload.value}
        </text>
      )}
    </g>
  );
}

function TopTick({ x, y, payload }: any) {
  const major = freqLabels.includes(payload.value);
  return <line x1={x} x2={x} y1={y} y2={y + (major ? 14 : 7)} stroke="#000" strokeWidth={3} />;
}

function LeftTick({ x, y, payload }: any) {
  const v = payload.value;
  const major = driftLabels.includes(v);
  // end labels are pulled inside the frame height
  const dy = v === 100 ? 36 : v === 1 ? 1 : 17;
  return (
    <g>
      <line x1={x} x2={x + (major ? 18 : 9)} y1={y} y2={y} stroke="#000" strokeWidth={3} />
      {major && (
        <text x={x - 14} y={y + dy} textAnchor="end" fontSize={48} fontFamily={FONT} fill="#000">
          {v}
        </text>
      )}
    </g>
  );
}

function RightTick({ x, y, payload }: any) {
  const major = driftLabels.includes(payload.value);
  return <line x1={x} x2={x - (major ? 18 : 9)} y1={y} y2={y} stroke="#000" strokeWidth={3} />;
}

const XTitle = () => (
  <text x={666} y={862} textAnchor="middle" fontSize={48} fontFamily={FONT} fill="#000">
    Frequency [MHz]
  </text>
);

const YTitle = () => (
  <text x={44} y={376} transform="rotate(-90, 44, 376)" textAnchor="middle" fontSize={48} fontFamily={FONT} fill="#000">
    Drift Rate [MHz s
    <tspan fontSize={28} dy={-15}>-1</tspan>
    <tspan dy={15}>]</tspan>
  </text>
);

const Plus = ({ cx, cy }: any) => (
  <path d={`M${cx - 6},${cy}H${cx + 6}M${cx},${cy - 6}V${cy + 6}`} stroke={BLUE} strokeWidth={3.4} fill="none" />
);

const NoMark = () => <g />;

function Panel({ rows, red }: { rows: Row[]; red: { x: number; y: number }[] }) {
  const points = toPoints(rows);
  // axes get a 1px size: Recharts skips drawing an axis whose width or height is 0
  return (
    <ScatterChart width={1200} height={885} margin={{ top: 6, right: 42, bottom: 139, left: 174 }}>
      <XAxis xAxisId="b" dataKey="x" type="number" scale="log" domain={[20, 100]} allowDataOverflow
        ticks={freqTicks} interval={0} height={1} tickSize={0} tickMargin={0} tickLine={false}
        axisLine={frame} tick={(p: any) => <BottomTick {...p} />} label={{ content: XTitle }} />
      <XAxis xAxisId="t" orientation="top" dataKey="x" type="number" scale="log" domain={[20, 100]} allowDataOverflow
        ticks={freqTicks} interval={0} height={1} tickSize={0} tickMargin={0} tickLine={false}
        axisLine={frame} tick={(p: any) => <TopTick {...p} />} />
      <YAxis yAxisId="l" dataKey="y" type="number" scale="log" domain={[1, 100]} allowDataOverflow
        ticks={driftTicks} interval={0} width={1} tickSize={0} tickMargin={0} tickLine={false}
        axisLine={frame} tick={(p: any) => <LeftTick {...p} />} label={{ content: YTitle }} />
      <YAxis yAxisId="r" orientation="right" dataKey="y" type="number" scale="log" domain={[1, 100]} allowDataOverflow
        ticks={driftTicks} interval={0} width={1} tickSize={0} tickMargin={0} tickLine={false}
        axisLine={frame} tick={(p: any) => <RightTick {...p} />} />
      <Scatter xAxisId="b" yAxisId="l" data={points} fill={BLUE} shape={Plus} isAnimationActive={false}>
        <ErrorBar dataKey="ex" direction="x" width={0} stroke={BLUE} strokeWidth={3.2} isAnimationActive={false} />
        <ErrorBar dataKey="ey" direction="y" width={0} stroke={BLUE} strokeWidth={3.2} isAnimationActive={false} />
      </Scatter>
      <Scatter xAxisId="t" yAxisId="r" data={orangeLine} fill={ORANGE} shape={NoMark} isAnimationActive={false}
        line={{ stroke: ORANGE, strokeWidth: 8, strokeDasharray: "12 8" }} />
      <Scatter xAxisId="b" yAxisId="l" data={red} fill={RED} shape={NoMark} isAnimationActive={false}
        line={{ stroke: RED, strokeWidth: 8, strokeDasharray: "12 8" }} />
    </ScatterChart>
  );
}

export default function App() {
  const panels = [
    { rows: panel1, red: redLine1 },
    { rows: panel2, red: redLine2 },
    { rows: panel3, red: redLine3 },
  ];
  return (
    <div style={{ position: "absolute", left: 0, top: 0, width: 1200, height: 2849, background: "#fff", overflow: "hidden" }}>
      {panels.map((p, i) => (
        <div key={i} style={{ position: "absolute", left: 0, top: PANEL_TOPS[i] }}>
          <Panel rows={p.rows} red={p.red} />
        </div>
      ))}
    </div>
  );
}
